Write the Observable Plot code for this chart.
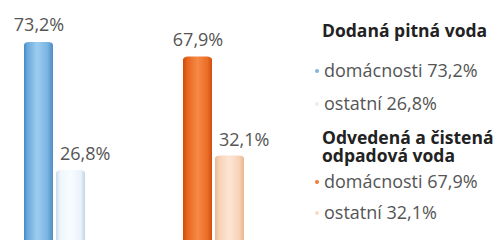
<!DOCTYPE html>
<html>
<head>
<meta charset="utf-8">
<script src="https://cdn.jsdelivr.net/npm/d3@7"></script>
<script src="https://cdn.jsdelivr.net/npm/@observablehq/plot@0.6"></script>
<style>
  html, body { margin: 0; padding: 0; background: #fff; }
  #wrap { position: relative; width: 497px; height: 240px; overflow: hidden; font-family: "Open Sans", sans-serif; }
  #chart { position: absolute; left: 0; top: 0; }
  .lg { position: absolute; left: 0; white-space: nowrap; color: #555; font-size: 18px; line-height: 20px; }
  .lg.h { color: #222; font-weight: 700; line-height: 16px; font-size: 17.5px; }
  .lg.h2 { color: #222; font-weight: 700; line-height: 17px; height: 17px; font-size: 17.5px; }
  .lg.i { left: -7px; }
  .dot { display: inline-block; width: 4px; height: 4px; border-radius: 2px; margin-right: 5px; vertical-align: middle; position: relative; top: -1px; }
</style>
</head>
<body>
<div id="wrap"><div id="chart"></div><div id="legend" style="position:absolute;left:322px;top:0;width:175px;height:240px;"></div></div>
<script>
const groups = ["Dodaná pitná voda", "Odvedená a čistená odpadová voda"];
const groupLines = [["Dodaná pitná voda"], ["Odvedená a čistená", "odpadová voda"]];
const series = ["domácnosti", "ostatní"];
const pitnaValues = [73.2, 26.8];
const odpadValues = [67.9, 32.1];
const barColors = ["url(#gBlue)", "url(#gBlueLight)", "url(#gOrange)", "url(#gOrangeLight)"];
const dotColors = ["#7fb6e3", "#e4eef7", "#ef7a3a", "#f9dcc6"];

const fmt = v => v.toFixed(1).replace(".", ",") + "%";
const data = [];
[pitnaValues, odpadValues].forEach((vals, gi) => {
  vals.forEach((v, si) => data.push({group: groups[gi], series: series[si], value: v, key: "k" + (gi * 2 + si), label: fmt(v)}));
});

const plot = Plot.plot({
  width: 300,
  height: 240,
  marginLeft: 23,
  marginRight: 55,
  marginTop: 0,
  marginBottom: 0,
  fx: {domain: groups, paddingInner: 0.604, paddingOuter: 0, axis: null, label: null},
  x: {domain: series, paddingInner: 0.08, paddingOuter: 0, axis: null},
  y: {domain: [0, 100], range: [244, -32], axis: null},
  color: {type: "ordinal", domain: ["k0", "k1", "k2", "k3"], range: barColors},
  marks: [
    Plot.barY(data, {fx: "group", x: "series", y: "value", fill: "key", rx: 5, ry: 3}),
    Plot.text(data.filter(d => d.series === series[0]), {fx: "group", x: "series", y: "value", text: "label",
      dy: -17, fontSize: 18, fill: "#555", fontFamily: "Open Sans"}),
    Plot.text(data.filter(d => d.series === series[1]), {fx: "group", x: "series", y: "value", text: "label",
      dy: -16, dx: -11, textAnchor: "start", fontSize: 18, fill: "#555", fontFamily: "Open Sans"})
  ]
});

// gradients for the cylinder look
const svg = d3.select(plot);
const defs = svg.insert("defs", ":first-child");
function grad(id, stops) {
  const g = defs.append("linearGradient").attr("id", id).attr("x1", 0).attr("x2", 1).attr("y1", 0).attr("y2", 0);
  stops.forEach(([o, c]) => g.append("stop").attr("offset", o).attr("stop-color", c));
}
grad("gBlue", [[0, "#4a88c2"], [0.12, "#6aa9dc"], [0.45, "#9ccdf0"], [0.8, "#7ab5e3"], [1, "#4f8cc4"]]);
grad("gBlueLight", [[0, "#c9d9ea"], [0.15, "#eef6fc"], [0.5, "#f8fcff"], [0.85, "#eaf3fa"], [1, "#c4d4e6"]]);
grad("gOrange", [[0, "#d04a0c"], [0.15, "#e8661e"], [0.5, "#f58a45"], [0.85, "#ea6c25"], [1, "#cf4c10"]]);
grad("gOrangeLight", [[0, "#eab896"], [0.15, "#f7d2b6"], [0.5, "#fde6d5"], [0.85, "#f6d0b4"], [1, "#e8b48f"]]);
document.getElementById("chart").appendChild(plot);

// legend
const legend = document.getElementById("legend");
function addLine(html, top, cls) {
  const d = document.createElement("div");
  d.className = "lg " + (cls || "");
  d.style.top = top + "px";
  d.innerHTML = html;
  legend.appendChild(d);
}
const dot = c => `<span class="dot" style="background:${c}"></span>`;
addLine(groupLines[0][0], 22, "h");
addLine(dot(dotColors[0]) + series[0] + " " + fmt(pitnaValues[0]), 60, "i");
addLine(dot(dotColors[1]) + series[1] + " " + fmt(pitnaValues[1]), 93, "i");
addLine(groupLines[1][0], 129, "h2");
addLine(groupLines[1][1], 147, "h2");
addLine(dot(dotColors[2]) + series[0] + " " + fmt(odpadValues[0]), 171, "i");
addLine(dot(dotColors[3]) + series[1] + " " + fmt(odpadValues[1]), 202, "i");
</script>
</body>
</html>
